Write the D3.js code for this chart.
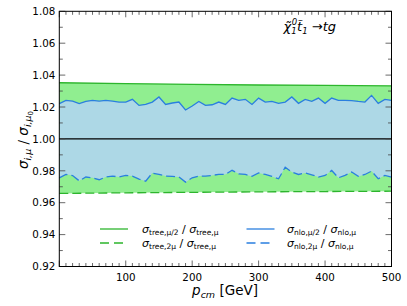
<!DOCTYPE html>
<html>
<head>
<meta charset="utf-8">
<script src="https://d3js.org/d3.v7.min.js"></script>
<style>
  body { margin: 0; background: #fff; }
  svg text { font-family: "DejaVu Sans", sans-serif; fill: #000; }
</style>
</head>
<body>
<script>
// sample points in p_cm [GeV]
var pcm = [0,10,20,30,40,50,60,70,80,90,100,110,120,130,140,150,160,170,180,190,200,
  210,220,230,240,250,260,270,280,290,300,310,320,330,340,350,360,370,380,390,400,
  410,420,430,440,450,460,470,480,490,500];
// sigma_nlo,mu/2 / sigma_nlo,mu
var nloHalf = [1.0221,1.0242,1.0237,1.0221,1.0235,1.0242,1.0237,1.0242,1.0237,1.0231,
  1.0231,1.0248,1.0210,1.0216,1.0231,1.0263,1.0216,1.0225,1.0231,1.0181,
  1.0206,1.0235,1.0210,1.0214,1.0231,1.0216,1.0256,1.0242,1.0248,1.0216,
  1.0256,1.0231,1.0235,1.0223,1.0231,1.0263,1.0223,1.0248,1.0235,1.0256,
  1.0223,1.0256,1.0242,1.0242,1.0240,1.0235,1.0231,1.0273,1.0223,1.0248,1.0242];
// sigma_nlo,2mu / sigma_nlo,mu
var nloTwo = [0.9756,0.9778,0.9770,0.9737,0.9761,0.9756,0.9744,0.9761,0.9767,0.9761,
  0.9771,0.9767,0.9748,0.9735,0.9786,0.9777,0.9767,0.9765,0.9761,0.9729,
  0.9756,0.9767,0.9767,0.9771,0.9778,0.9777,0.9803,0.9781,0.9777,0.9765,
  0.9786,0.9777,0.9765,0.9750,0.9822,0.9792,0.9777,0.9786,0.9775,0.9761,
  0.9771,0.9802,0.9756,0.9771,0.9792,0.9765,0.9777,0.9798,0.9750,0.9771,0.9761];
// tree-level ratios
var treeX = [0,100,200,300,400,500];
var treeHalf = [1.0352,1.0347,1.0342,1.0338,1.0335,1.0333];
var treeTwo = [0.9658,0.9662,0.9665,0.9668,0.9670,0.9672];

var yTicks = [0.92,0.94,0.96,0.98,1.00,1.02,1.04,1.06,1.08];
var xTicks = [100,200,300,400,500];

var W = 407, H = 306;
var m = {left: 59.3, right: 391.5, top: 11.3, bottom: 266.5};

var svg = d3.select("body").append("svg").attr("width", W).attr("height", H);

var x = d3.scaleLinear().domain([0, 500]).range([m.left, m.right]);
var y = d3.scaleLinear().domain([0.92, 1.08]).range([m.bottom, m.top]);

var green = "#2db52d", greenFill = "#90ee90";
var blue = "#2a7fdf", blueFill = "#add8e6";

var tree = treeX.map(function(d, i) { return {x: d, hi: treeHalf[i], lo: treeTwo[i]}; });
var nlo = pcm.map(function(d, i) { return {x: d, hi: nloHalf[i], lo: nloTwo[i]}; });

var band = d3.area().x(function(d) { return x(d.x); })
  .y0(function(d) { return y(d.lo); }).y1(function(d) { return y(d.hi); });

svg.append("path").datum(tree).attr("d", band).attr("fill", greenFill);
svg.append("path").datum(nlo).attr("d", band).attr("fill", blueFill);

// reference line at 1
svg.append("line").attr("x1", x(0)).attr("x2", x(500))
  .attr("y1", y(1)).attr("y2", y(1)).attr("stroke", "#000").attr("stroke-width", 1.1);

function line(key) {
  return d3.line().x(function(d) { return x(d.x); }).y(function(d) { return y(d[key]); });
}
svg.append("path").datum(tree).attr("d", line("hi")).attr("fill", "none")
  .attr("stroke", green).attr("stroke-width", 1.3);
svg.append("path").datum(tree).attr("d", line("lo")).attr("fill", "none")
  .attr("stroke", green).attr("stroke-width", 1.3).attr("stroke-dasharray", "9,4");
svg.append("path").datum(nlo).attr("d", line("hi")).attr("fill", "none")
  .attr("stroke", blue).attr("stroke-width", 1.3);
svg.append("path").datum(nlo).attr("d", line("lo")).attr("fill", "none")
  .attr("stroke", blue).attr("stroke-width", 1.3).attr("stroke-dasharray", "9,4");

// ticks on all four sides, pointing inward
var tickCol = "#444";
var yMinor = d3.range(0.92, 1.0801, 0.01);
var xMinor = d3.range(0, 500.1, 10);
var tg = svg.append("g");
yMinor.forEach(function(v) {
  var major = yTicks.some(function(t) { return Math.abs(t - v) < 1e-6; });
  var len = major ? 6 : 3.5;
  tg.append("line").attr("x1", m.left).attr("x2", m.left + len).attr("y1", y(v)).attr("y2", y(v))
    .attr("stroke", tickCol).attr("stroke-width", 0.8);
  tg.append("line").attr("x1", m.right).attr("x2", m.right - len).attr("y1", y(v)).attr("y2", y(v))
    .attr("stroke", tickCol).attr("stroke-width", 0.8);
});
xMinor.forEach(function(v) {
  var major = v % 100 === 0;
  var len = major ? 6 : 3.5;
  tg.append("line").attr("y1", m.bottom).attr("y2", m.bottom - len).attr("x1", x(v)).attr("x2", x(v))
    .attr("stroke", tickCol).attr("stroke-width", 0.8);
  tg.append("line").attr("y1", m.top).attr("y2", m.top + len).attr("x1", x(v)).attr("x2", x(v))
    .attr("stroke", tickCol).attr("stroke-width", 0.8);
});

// frame
svg.append("rect").attr("x", m.left).attr("y", m.top)
  .attr("width", m.right - m.left).attr("height", m.bottom - m.top)
  .attr("fill", "none").attr("stroke", "#000").attr("stroke-width", 1);

// tick labels
svg.selectAll(".yl").data(yTicks).enter().append("text")
  .attr("x", m.left - 4).attr("y", function(d) { return y(d) + 3.7; })
  .attr("text-anchor", "end").style("font-size", "10.3px")
  .text(function(d) { return d.toFixed(2); });
svg.selectAll(".xl").data(xTicks).enter().append("text")
  .attr("x", function(d) { return x(d); }).attr("y", 281)
  .attr("text-anchor", "middle").style("font-size", "10.3px")
  .text(function(d) { return d; });

// axis titles
var xt = svg.append("text").attr("x", 225).attr("y", 295).attr("text-anchor", "middle")
  .style("font-size", "13.5px");
xt.append("tspan").style("font-style", "italic").text("p");
xt.append("tspan").style("font-style", "italic").style("font-size", "9.5px").attr("dy", 2.5).text("cm");
xt.append("tspan").attr("dy", -2.5).text(" [GeV]");

var yt = svg.append("text").attr("transform", "translate(28,140) rotate(-90)")
  .attr("text-anchor", "middle").style("font-size", "13.5px");
yt.append("tspan").style("font-style", "italic").text("σ");
yt.append("tspan").style("font-style", "italic").style("font-size", "9.5px").attr("dy", 3).text("i,μ");
yt.append("tspan").attr("dy", -3).text(" / ");
yt.append("tspan").style("font-style", "italic").text("σ");
yt.append("tspan").style("font-style", "italic").style("font-size", "9.5px").attr("dy", 3).text("i,μ");
yt.append("tspan").style("font-size", "7px").attr("dy", 2).text("0");

// process title
var tt = svg.append("text").attr("x", 336).attr("y", 31).attr("text-anchor", "end")
  .style("font-size", "13px").style("font-style", "italic");
tt.append("tspan").text("χ\u0303");
tt.append("tspan").style("font-size", "8.5px").attr("dy", 3).text("1");
tt.append("tspan").style("font-size", "8.5px").attr("dx", -5).attr("dy", -9).text("0");
tt.append("tspan").attr("dy", 6).text("t\u0303");
tt.append("tspan").style("font-size", "8.5px").attr("dy", 3).text("1");
tt.append("tspan").attr("dy", -3).style("font-style", "normal").text(" →");
tt.append("tspan").text("tg");

// legend
var legend = [
  {col: green, dash: null, a: "tree,μ/2", b: "tree,μ", lx: 100, tx: 142, ly: 229},
  {col: green, dash: "9,5", a: "tree,2μ", b: "tree,μ", lx: 100, tx: 142, ly: 243},
  {col: blue, dash: null, a: "nlo,μ/2", b: "nlo,μ", lx: 246.5, tx: 287, ly: 229},
  {col: blue, dash: "9,5", a: "nlo,2μ", b: "nlo,μ", lx: 246.5, tx: 287, ly: 243}
];
legend.forEach(function(d) {
  svg.append("line").attr("x1", d.lx).attr("x2", d.lx + 28).attr("y1", d.ly).attr("y2", d.ly)
    .attr("stroke", d.col).attr("stroke-width", 1.3).attr("stroke-dasharray", d.dash);
  var t = svg.append("text").attr("x", d.tx).attr("y", d.ly + 4).style("font-size", "11px");
  t.append("tspan").style("font-style", "italic").text("σ");
  t.append("tspan").style("font-size", "7.5px").attr("dy", 2).text(d.a);
  t.append("tspan").attr("dy", -2).text(" / ");
  t.append("tspan").style("font-style", "italic").text("σ");
  t.append("tspan").style("font-size", "7.5px").attr("dy", 2).text(d.b);
});
</script>
</body>
</html>
